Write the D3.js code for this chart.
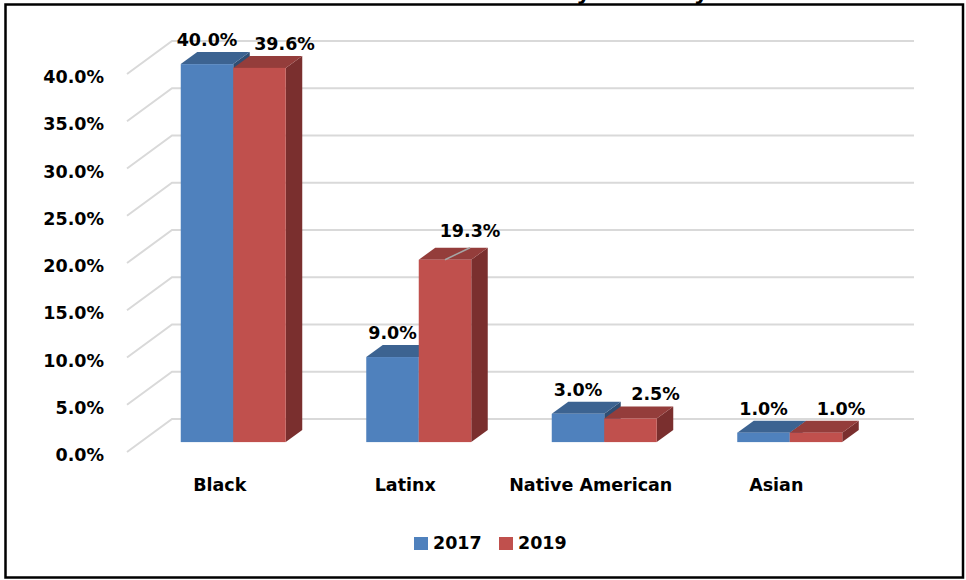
<!doctype html>
<html>

<head>
	<style>
		body { margin: 0; background: #fff; }
		text { font-family: "DejaVu Sans", sans-serif; font-weight: bold; fill: #000; }
	</style>
</head>

<body>
	<div class="figure"></div>

	<script src="https://d3js.org/d3.v7.min.js"></script>
	<script>
		// данные
		let categories = ["Black", "Latinx", "Native American", "Asian"];
		let years = ["2017", "2019"];
		let values2017 = [0.400, 0.090, 0.030, 0.010];
		let values2019 = [0.396, 0.193, 0.025, 0.010];
		let yTicks = [0, 0.05, 0.10, 0.15, 0.20, 0.25, 0.30, 0.35, 0.40];
		let title = "Enrollment by Ethnicity";

		let series = [values2017, values2019];

		// цвета: фронт, верх, бок
		let front = ["#4f81bd", "#c0504d"];
		let top_ = ["#3c6391", "#943d3b"];
		let side = ["#2f4e73", "#7a2f2e"];

		let svg = d3.select(".figure")
			.append("svg")
			.attr("width", "966")
			.attr("height", "580")
			.style("display", "block")
			.style("background-color", "white");

		// передняя плоскость
		let X0 = 127, X1 = 869;
		let DX = 45, DY = -33;       // глубина стены
		let BDX = 16.5, BDY = -12;   // глубина столбца
		let FD = 0.3;                // сдвиг столбцов вглубь

		let y = d3.scaleLinear().domain([0, 0.40]).range([452, 74]);

		let x = d3.scaleBand()
			.domain(categories)
			.range([X0, X1])
			.paddingInner(0.434)
			.paddingOuter(0.217);

		let xs = d3.scaleBand().domain(years).range([0, x.bandwidth()]);

		let fmt = d3.format(".1%");

		// заголовок (обрезан сверху)
		svg.append("text")
			.attr("x", 708)
			.attr("y", 0)
			.attr("text-anchor", "end")
			.style("font-size", "22px")
			.text(title);

		// сетка: левая стена + задняя стена
		let grid = svg.append("g")
			.attr("fill", "none")
			.attr("stroke", "#d9d9d9")
			.attr("stroke-width", 2);

		grid.selectAll("path")
			.data(yTicks)
			.enter()
			.append("path")
			.attr("d", d => "M" + X0 + "," + y(d) +
				"L" + (X0 + DX) + "," + (y(d) + DY) +
				"L" + (X1 + DX) + "," + (y(d) + DY));

		// подписи оси Y
		svg.append("g")
			.selectAll("text")
			.data(yTicks)
			.enter()
			.append("text")
			.attr("x", 104)
			.attr("y", d => y(d) + 9)
			.attr("text-anchor", "end")
			.style("font-size", "17.5px")
			.text(d => fmt(d));

		// столбцы
		let offX = DX * FD, offY = DY * FD;

		categories.forEach((c, i) => {
			years.forEach((yr, s) => {
				let v = series[s][i];
				let xl = x(c) + xs(yr) + offX;
				let xr = xl + xs.bandwidth();
				let yt = y(v) + offY;
				let yb = y(0) + offY;
				let g = svg.append("g");

				g.append("path")
					.attr("d", "M" + xr + "," + yt + "L" + (xr + BDX) + "," + (yt + BDY) +
						"L" + (xr + BDX) + "," + (yb + BDY) + "L" + xr + "," + yb + "Z")
					.attr("fill", side[s]);

				g.append("path")
					.attr("d", "M" + xl + "," + yt + "L" + (xl + BDX) + "," + (yt + BDY) +
						"L" + (xr + BDX) + "," + (yt + BDY) + "L" + xr + "," + yt + "Z")
					.attr("fill", top_[s]);

				g.append("rect")
					.attr("x", xl)
					.attr("y", yt)
					.attr("width", xs.bandwidth())
					.attr("height", yb - yt)
					.attr("fill", front[s]);
			});
		});

		// подписи значений
		categories.forEach((c, i) => {
			years.forEach((yr, s) => {
				let v = series[s][i];
				let cx = x(c) + xs(yr) + xs.bandwidth() / 2 + offX;
				let yt = y(v) + offY;
				let lx = cx + (s === 1 ? 25 : 0);
				let ly = yt - 18;
				if (s === 1 && c === "Latinx") {
					// выноска
					ly = yt - 23;
					svg.append("line")
						.attr("x1", cx).attr("y1", yt)
						.attr("x2", cx + 25).attr("y2", yt - 12)
						.attr("stroke", "#a6a6a6")
						.attr("stroke-width", 1.5);
				}
				svg.append("text")
					.attr("x", lx)
					.attr("y", ly)
					.attr("text-anchor", "middle")
					.style("font-size", "17.5px")
					.text(fmt(v));
			});
		});

		// подписи категорий
		svg.append("g")
			.selectAll("text")
			.data(categories)
			.enter()
			.append("text")
			.attr("x", d => x(d) + x.bandwidth() / 2)
			.attr("y", 491)
			.attr("text-anchor", "middle")
			.style("font-size", "17.5px")
			.text(d => d);

		// легенда
		let legX = [414, 499];
		let leg = svg.append("g");
		years.forEach((yr, s) => {
			leg.append("rect")
				.attr("x", legX[s]).attr("y", 537)
				.attr("width", 14).attr("height", 13)
				.attr("fill", front[s]);
			leg.append("text")
				.attr("x", legX[s] + 19)
				.attr("y", 549)
				.style("font-size", "17.5px")
				.text(yr);
		});

		// рамка
		svg.append("rect")
			.attr("x", 5.5)
			.attr("y", 4.5)
			.attr("width", 957.5)
			.attr("height", 573)
			.attr("fill", "none")
			.attr("stroke", "#000")
			.attr("stroke-width", 2.5);
	</script>

</body>

</html>
